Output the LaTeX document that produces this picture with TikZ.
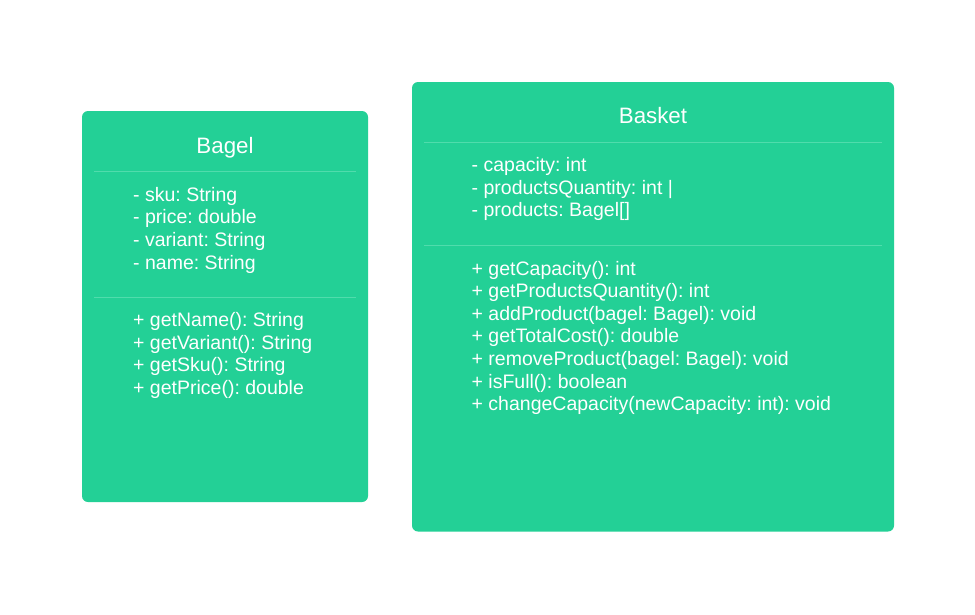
\documentclass[tikz,border=0pt]{standalone}
\usepackage{fontspec}
\setmainfont{Liberation Sans}
\definecolor{umlfill}{RGB}{35,208,150}
\definecolor{umlsep}{RGB}{80,220,172}
\begin{document}
\frenchspacing
\begin{tikzpicture}[x=1pt,y=-1pt,
  classbox/.style={fill=umlfill, rounded corners=6pt},
  sepline/.style={draw=umlsep, line width=1pt},
  titletext/.style={text=white, font=\fontsize{22.3}{26}\selectfont, inner sep=0pt, anchor=base},
  membertext/.style={text=white, font=\fontsize{19.5}{22.6}\selectfont, inner sep=0pt, anchor=base west}]
\useasboundingbox[fill=white] (0,0) rectangle (975,614);

% Bagel class
\path[classbox] (82,111) rectangle (368,502);
\node[titletext] (bageltitle) at (225,153) {Bagel};
\draw[sepline] (94,171.5) -- (356,171.5);
\node[membertext] (ba1) at (133,201.3) {- sku: String};
\node[membertext] (ba2) at (133,223.9) {- price: double};
\node[membertext] (ba3) at (133,246.5) {- variant: String};
\node[membertext] (ba4) at (133,269.1) {- name: String};
\draw[sepline] (94,297.5) -- (356,297.5);
\node[membertext] (bm1) at (133,326.7) {+ getName(): String};
\node[membertext] (bm2) at (133,349.3) {+ getVariant(): String};
\node[membertext] (bm3) at (133,371.9) {+ getSku(): String};
\node[membertext] (bm4) at (133,394.5) {+ getPrice(): double};

% Basket class
\path[classbox] (412,82) rectangle (894,531.5);
\node[titletext] (baskettitle) at (653,123.3) {Basket};
\draw[sepline] (424,142.2) -- (882,142.2);
\node[membertext] (ka1) at (471.5,171.7) {- capacity: int};
\node[membertext] (ka2) at (471.5,194.3) {- productsQuantity: int |};
\node[membertext] (ka3) at (471.5,216.9) {- products: Bagel[]};
\draw[sepline] (424,245.7) -- (882,245.7);
\node[membertext] (km1) at (471.5,275.0) {+ getCapacity(): int};
\node[membertext] (km2) at (471.5,297.6) {+ getProductsQuantity(): int};
\node[membertext] (km3) at (471.5,320.2) {+ addProduct(bagel: Bagel): void};
\node[membertext] (km4) at (471.5,342.8) {+ getTotalCost(): double};
\node[membertext] (km5) at (471.5,365.4) {+ removeProduct(bagel: Bagel): void};
\node[membertext] (km6) at (471.5,388.0) {+ isFull(): boolean};
\node[membertext] (km7) at (471.5,410.6) {+ changeCapacity(newCapacity: int): void};
\end{tikzpicture}
\end{document}
